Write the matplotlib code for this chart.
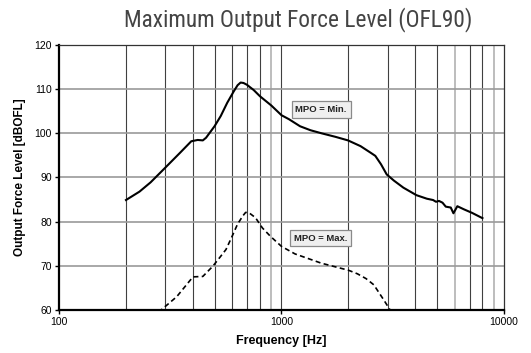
import matplotlib
matplotlib.use("Agg")
import matplotlib.pyplot as plt
from matplotlib import font_manager as fm
from matplotlib.ticker import FixedLocator, NullLocator, FixedFormatter

# ---- data ----
min_freq = [200, 230, 258, 300, 350, 393, 420, 443, 458, 500, 533, 570, 610, 635, 655, 675,
            699, 750, 800, 900, 1000, 1080, 1212, 1350, 1516, 1750, 1990, 2266, 2517, 2640,
            2800, 2970, 3200, 3530, 4040, 4500, 4800, 4948, 5100, 5292, 5474, 5764, 5926,
            6170, 6600, 7180, 8000]
min_level = [84.9, 86.8, 88.9, 92.2, 95.6, 98.2, 98.5, 98.4, 99.0, 101.6, 103.9, 106.9,
             109.5, 110.9, 111.5, 111.4, 111.0, 109.8, 108.4, 106.3, 104.1, 103.2, 101.6,
             100.7, 100.0, 99.2, 98.4, 97.1, 95.6, 94.9, 93.0, 90.7, 89.3, 87.7, 86.0, 85.2,
             84.9, 84.5, 84.7, 84.3, 83.4, 83.2, 81.9, 83.5, 82.8, 82.0, 80.8]

max_freq = [280, 338, 400, 443, 491, 530, 563, 600, 634, 670, 690, 715, 764, 820, 891, 1000,
            1150, 1510, 2000, 2193, 2400, 2600, 2880, 3060, 3150]
max_level = [59.5, 63.0, 67.5, 67.6, 69.9, 72.0, 73.7, 76.7, 79.4, 81.3, 82.1, 82.0, 80.9,
             78.6, 76.7, 74.4, 72.7, 70.6, 69.0, 68.2, 67.1, 65.7, 62.3, 60.2, 59.0]

x_ticks = [100, 1000, 10000]
x_ticklabels = ["100", "1000", "10000"]
y_ticks = [60, 70, 80, 90, 100, 110, 120]
grid_freqs = [200, 300, 400, 500, 600, 700, 800, 900, 1000, 2000, 3000, 4000, 5000,
              6000, 7000, 8000, 9000]
light_grid = [900, 6000, 9000]

title_text = "Maximum Output Force Level (OFL90)"
xlabel_text = "Frequency [Hz]"
ylabel_text = "Output Force Level [dBOFL]"
label_min = "MPO = Min."
label_max = "MPO = Max."

# ---- fonts ----
avail = {f.name for f in fm.fontManager.ttflist}
def pick(cands):
    for c in cands:
        if c in avail:
            return c
    return "DejaVu Sans"
narrow = pick(["Liberation Sans Narrow", "Roboto Condensed", "DejaVu Sans Condensed", "Roboto"])
sans = pick(["Liberation Sans", "Arial", "DejaVu Sans"])
plt.rcParams["font.family"] = [sans, "DejaVu Sans"]

fig = plt.figure(figsize=(5.31, 3.53), dpi=100)
ax = fig.add_axes([59/531, 1-310/353, (504-59)/531, (310-45)/353])
ax.set_xscale("log")
ax.set_xlim(100, 10000)
ax.set_ylim(60, 120)

# grid
for g in grid_freqs:
    if g in light_grid:
        ax.axvline(g, color="#b8b8b8", lw=1.3, zorder=1)
    else:
        ax.axvline(g, color="#404040", lw=0.8, zorder=1)
for yv in y_ticks[1:-1]:
    ax.axhline(yv, color="#9a9a9a", lw=1.2, zorder=1)

ax.plot(min_freq, min_level, color="black", lw=1.5, zorder=3, clip_on=True)
ax.plot(max_freq, max_level, color="black", lw=1.2, ls=(0, (3, 2)), zorder=3, clip_on=True)

box = dict(boxstyle="square,pad=0.4", fc="#efefef", ec="#8a8a8a", lw=0.9)
ax.text(1507, 105.4, label_min, ha="center", va="center", fontsize=6.8,
        fontweight="bold", color="#222", bbox=box, zorder=4)
ax.text(1500, 76.3, label_max, ha="center", va="center", fontsize=6.8,
        fontweight="bold", color="#222", bbox=box, zorder=4)

ax.xaxis.set_major_locator(FixedLocator(x_ticks))
ax.xaxis.set_major_formatter(FixedFormatter(x_ticklabels))
ax.xaxis.set_minor_locator(NullLocator())
ax.yaxis.set_major_locator(FixedLocator(y_ticks))
ax.tick_params(axis="both", which="major", direction="out", length=3, width=1,
               labelsize=7.5, colors="black", pad=2)

for s in ["left", "bottom"]:
    ax.spines[s].set_linewidth(1.6)
    ax.spines[s].set_color("black")
for s in ["top", "right"]:
    ax.spines[s].set_linewidth(0.9)
    ax.spines[s].set_color("#333333")

ax.set_xlabel(xlabel_text, fontsize=9, fontweight="bold", labelpad=6)
ax.set_ylabel(ylabel_text, fontsize=8.5, fontweight="bold", labelpad=6)

fig.text(298/531, 1-20/353, title_text, ha="center", va="center", fontsize=16.8,
         color="#444444", family=[narrow, "DejaVu Sans"])

fig.savefig("out.png", dpi=100)
